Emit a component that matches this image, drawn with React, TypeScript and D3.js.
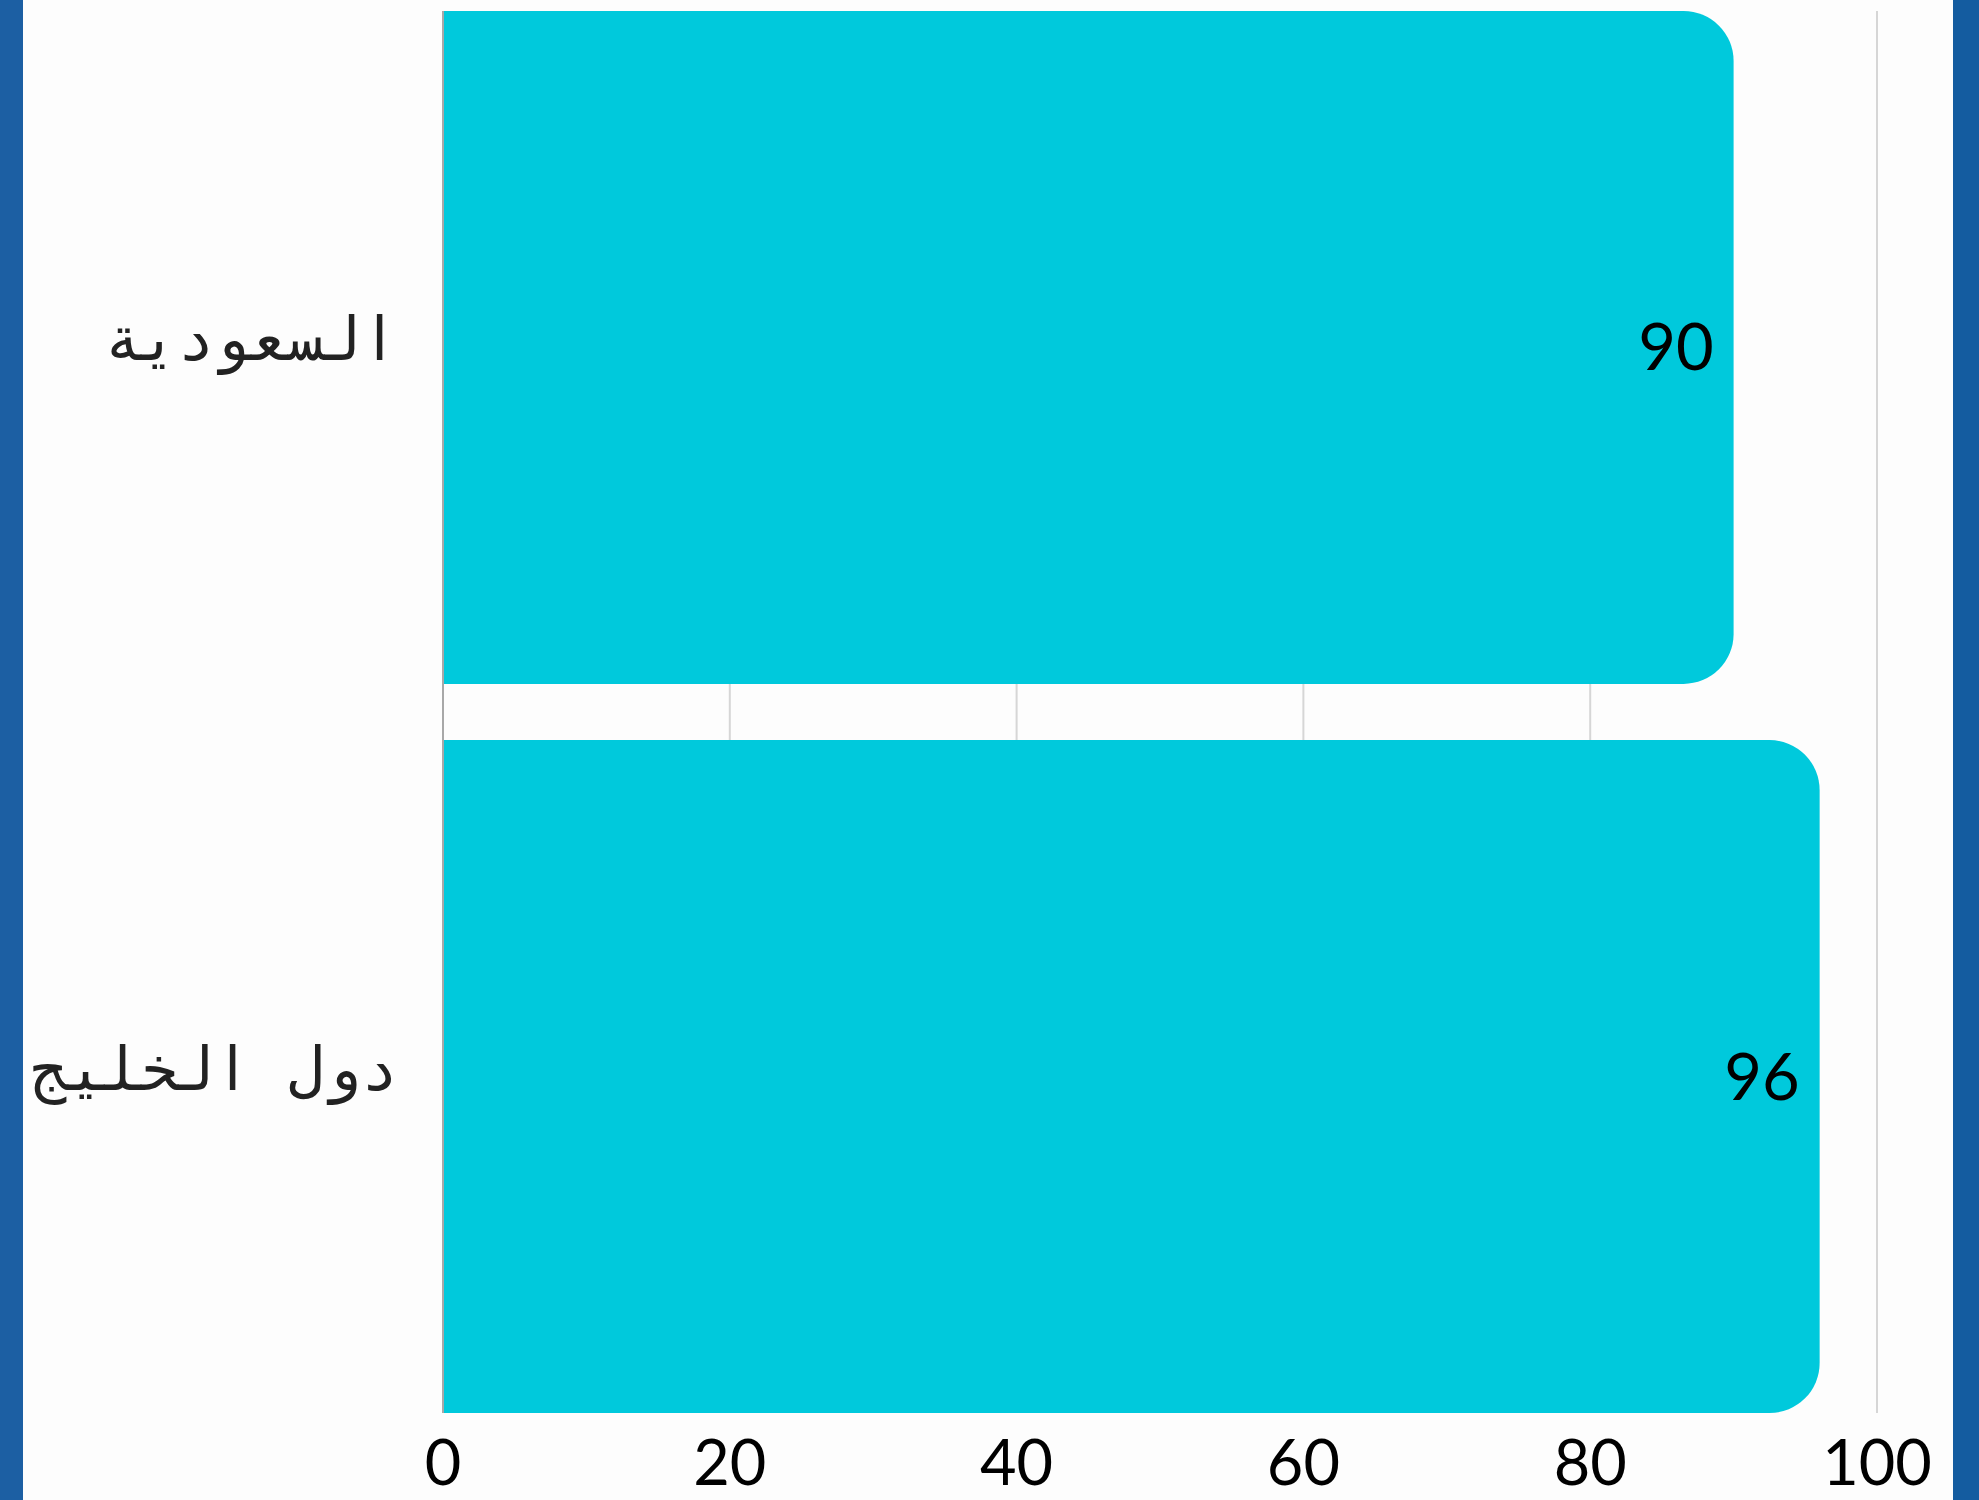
import React from "react";
import * as d3 from "d3";

const categories: string[] = ["السعودية", "دول الخليج"];
const values: number[] = [90, 96];
const xTicks: number[] = [0, 20, 40, 60, 80, 100];

const W = 1979;
const H = 1500;
const X0 = 443;
const X1 = 1877;
const Y0 = 11;
const Y1 = 1413;
const R = 50;

export default function App() {
  const x = d3.scaleLinear().domain([0, 100]).range([X0, X1]);
  const y = d3
    .scaleBand<string>()
    .domain(categories)
    .range([Y0, Y1])
    .paddingInner(0.077)
    .paddingOuter(0);

  const barPath = (v: number, cat: string) => {
    const x0 = x(0);
    const x1 = x(v);
    const t = y(cat)!;
    const b = t + y.bandwidth();
    const r = Math.min(R, (x1 - x0) / 2, y.bandwidth() / 2);
    const p = d3.path();
    p.moveTo(x0, t);
    p.lineTo(x1 - r, t);
    p.arcTo(x1, t, x1, t + r, r);
    p.lineTo(x1, b - r);
    p.arcTo(x1, b, x1 - r, b, r);
    p.lineTo(x0, b);
    p.closePath();
    return p.toString();
  };

  return (
    <div style={{ position: "fixed", left: 0, top: 0, width: W, height: H }}>
      <svg width={W} height={H} style={{ display: "block" }}>
        <rect x={0} y={0} width={W} height={H} fill="#fdfdfd" />
        <rect x={0} y={0} width={23} height={H} fill="#1c5fa3" />
        <rect x={1953} y={0} width={W - 1953} height={H} fill="#145ca0" />
        {xTicks
          .filter((t) => t !== 0)
          .map((t) => (
            <line
              key={"g" + t}
              x1={x(t)}
              x2={x(t)}
              y1={Y0}
              y2={Y1}
              stroke="#d6d6d6"
              strokeWidth={2}
            />
          ))}
        {categories.map((c, i) => (
          <path key={"b" + c} d={barPath(values[i], c)} fill="#00c9dc" />
        ))}
        <line x1={x(0)} x2={x(0)} y1={Y0} y2={Y1} stroke="#a8a8a8" strokeWidth={2} />
        {categories.map((c, i) => {
          const cy = y(c)! + y.bandwidth() / 2;
          return (
            <text
              key={"v" + c}
              x={x(values[i]) - 20}
              y={cy + 23}
              textAnchor="end"
              fontFamily="Lato, 'Noto Sans', sans-serif"
              fontSize={65}
              fill="#000"
            >
              {values[i]}
            </text>
          );
        })}
        {categories.map((c) => {
          const cy = y(c)! + y.bandwidth() / 2;
          return (
            <text
              key={"l" + c}
              x={398}
              y={cy + 13}
              textAnchor="end"
              fontFamily="'DejaVu Sans Mono', monospace"
              fontSize={61}
              fill="#222"
            >
              {c}
            </text>
          );
        })}
        {xTicks.map((t) => (
          <text
            key={"t" + t}
            x={x(t)}
            y={1485}
            textAnchor="middle"
            fontFamily="Lato, 'Noto Sans', sans-serif"
            fontSize={63}
            fill="#000"
          >
            {t}
          </text>
        ))}
      </svg>
    </div>
  );
}
